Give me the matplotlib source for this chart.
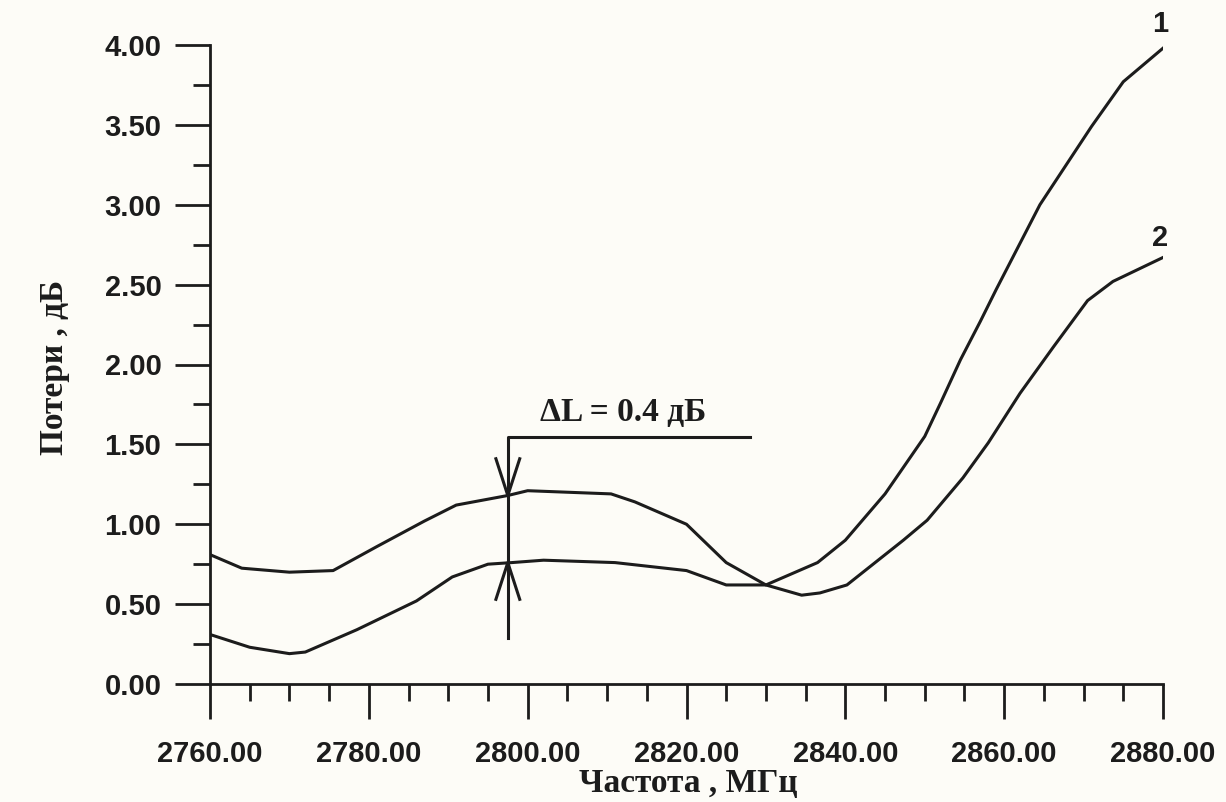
import numpy as np
import matplotlib
matplotlib.use('Agg')
from matplotlib import pyplot as plt
from matplotlib.ticker import MultipleLocator, FormatStrFormatter

# curve 1 (ends at 4.0 dB)
freq1 = [2760, 2765, 2770, 2772, 2778.5, 2786, 2790.5, 2795, 2798, 2802, 2811, 2820, 2825,
         2830, 2836.5, 2840, 2845, 2850, 2852, 2854.5, 2857, 2859, 2864.5, 2871, 2875, 2880]
loss1 = [0.31, 0.23, 0.19, 0.20, 0.34, 0.52, 0.67, 0.75, 0.76, 0.775, 0.76, 0.71, 0.62,
         0.62, 0.76, 0.90, 1.19, 1.55, 1.76, 2.03, 2.27, 2.47, 3.00, 3.49, 3.77, 3.98]

# curve 2 (ends at ~2.7 dB)
freq2 = [2760, 2764, 2770, 2775.5, 2781, 2787, 2791, 2797.5, 2800, 2810.5, 2813.5, 2820, 2825,
         2830, 2834.5, 2836.8, 2840.2, 2847.3, 2850.3, 2854.8, 2858, 2862, 2866.2, 2870.5, 2873.7, 2880]
loss2 = [0.81, 0.725, 0.70, 0.71, 0.86, 1.02, 1.12, 1.18, 1.21, 1.19, 1.14, 1.00, 0.76,
         0.62, 0.556, 0.57, 0.62, 0.90, 1.025, 1.29, 1.51, 1.82, 2.11, 2.40, 2.52, 2.67]

# delta L marker
mark_f = 2797.5
mark_top = 1.18
mark_bot = 0.76
shelf_y = 1.544
shelf_end = 2828
stem_bot = 0.29

ink = '#1c1c1c'
sans = ['Liberation Sans', 'DejaVu Sans']
serif = ['Liberation Serif', 'DejaVu Serif']

fig = plt.figure(figsize=(12.26, 8.02), dpi=100, facecolor='#fdfcf7')
ax = fig.add_axes([210/1226, 1-684/802, (1163-210)/1226, (684-45)/802])
ax.set_facecolor('none')

ax.plot(freq1, loss1, color=ink, lw=2.2, solid_joinstyle='round')
ax.plot(freq2, loss2, color=ink, lw=2.2, solid_joinstyle='round')

# annotation
ax.plot([mark_f, mark_f, shelf_end], [stem_bot, shelf_y, shelf_y], color=ink, lw=2.2)
ax.plot([mark_f - 1.5, mark_f, mark_f + 1.5], [mark_top + 0.23, mark_top, mark_top + 0.23], color=ink, lw=2.2)
ax.plot([mark_f - 1.5, mark_f, mark_f + 1.5], [mark_bot - 0.23, mark_bot, mark_bot - 0.23], color=ink, lw=2.2)
ax.text(2812, 1.70, 'ΔL = 0.4 дБ', family=serif, fontweight='bold', fontsize=24,
        ha='center', va='center', color=ink)

ax.text(2879.6, 4.13, '1', family=sans, fontweight='bold', fontsize=21, ha='center', va='center', color=ink)
ax.text(2879.6, 2.79, '2', family=sans, fontweight='bold', fontsize=21, ha='center', va='center', color=ink)

ax.set_xlim(2760, 2880)
ax.set_ylim(0, 4)
for s in ['top', 'right']:
    ax.spines[s].set_visible(False)
for s in ['left', 'bottom']:
    ax.spines[s].set_linewidth(2.0)
    ax.spines[s].set_color(ink)

ax.xaxis.set_major_locator(MultipleLocator(20))
ax.xaxis.set_minor_locator(MultipleLocator(5))
ax.yaxis.set_major_locator(MultipleLocator(0.5))
ax.yaxis.set_minor_locator(MultipleLocator(0.25))
ax.xaxis.set_major_formatter(FormatStrFormatter('%.2f'))
ax.yaxis.set_major_formatter(FormatStrFormatter('%.2f'))

ax.tick_params(which='major', direction='out', length=25, width=2.0, color=ink)
ax.tick_params(which='minor', direction='out', length=12, width=2.0, color=ink)
ax.tick_params(axis='x', which='major', pad=15)
ax.tick_params(axis='y', which='major', pad=10)
for lab in ax.get_xticklabels() + ax.get_yticklabels():
    lab.set_family(sans)
    lab.set_fontweight('bold')
    lab.set_fontsize(21)
    lab.set_color(ink)

fig.text(688/1226, 1-783/802, 'Частота , МГц', family=serif, fontweight='bold', fontsize=24,
         ha='center', va='center', color=ink)
fig.text(55/1226, 1-367/802, 'Потери , дБ', family=serif, fontweight='bold', fontsize=24,
         ha='center', va='center', rotation=90, color=ink)

fig.savefig('out.png', dpi=100, facecolor=fig.get_facecolor())
